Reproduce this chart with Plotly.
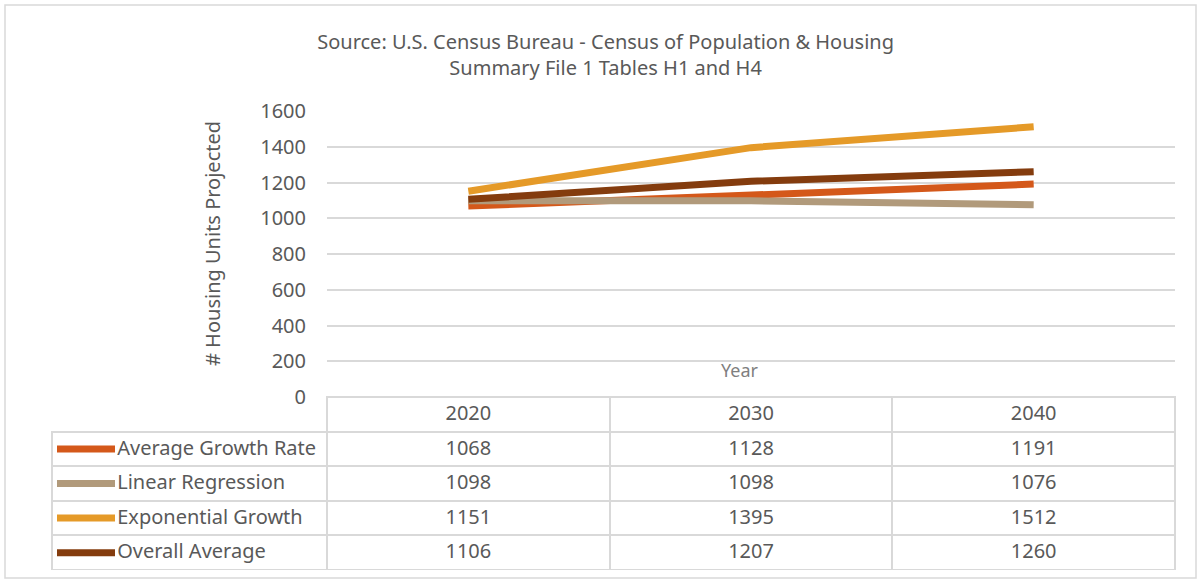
import plotly.graph_objects as go

# projection years and projected housing units per method
years = ['2020', '2030', '2040']
avg_growth = [1068, 1128, 1191]
linear_reg = [1098, 1098, 1076]
exp_growth = [1151, 1395, 1512]
overall_avg = [1106, 1207, 1260]

series_names = ['Average Growth Rate', 'Linear Regression', 'Exponential Growth', 'Overall Average']
series_values = [avg_growth, linear_reg, exp_growth, overall_avg]
series_colors = ['#D4581A', '#B19A7B', '#E59A28', '#843C0E']

GRID = '#D9D9D9'
TEXT = '#595959'
CLEAR = 'rgba(0,0,0,0)'
FONT = 'Noto Sans, DejaVu Sans, sans-serif'

W, H = 1204, 580
M_L, M_R, M_T, M_B = 52, 29, 111, 10
paper_w = W - M_L - M_R
paper_h = H - M_T - M_B


def px_x(x):
    return (x - M_L) / paper_w


def px_y(y):
    return (H - M_B - y) / paper_h


plot_left = 327
plot_bottom = 397
row_h = (H - M_B - plot_bottom) / 5

fig = go.Figure()

# projection lines
for name, vals, col in zip(series_names, series_values, series_colors):
    fig.add_trace(go.Scatter(
        x=years, y=vals, name=name, mode='lines',
        line=dict(color=col, width=7),
        showlegend=False, xaxis='x', yaxis='y'
    ))

# legend keys in the first table column (one short line per series row)
for name, col in zip(series_names, series_colors):
    fig.add_trace(go.Scatter(
        x=[0, 1], y=[name, name], mode='lines',
        line=dict(color=col, width=7),
        showlegend=False, hoverinfo='skip', xaxis='x2', yaxis='y2'
    ))

# data table under the chart (Excel style); non-breaking spaces keep names on one line
nb = '\u00a0'
first_col = [nb * 11 + n.replace(' ', nb) for n in series_names]
year_cols = [[vals[i] for vals in series_values] for i in range(len(years))]

fig.add_trace(go.Table(
    domain=dict(x=[0, 1], y=[0, px_y(plot_bottom)]),
    columnwidth=[plot_left - M_L] + [(W - M_R - plot_left) / 3] * 3,
    header=dict(
        values=[''] + years,
        height=row_h,
        align='center',
        fill_color=CLEAR,
        line=dict(color=[CLEAR, GRID, GRID, GRID], width=2),
        font=dict(family=FONT, size=20, color=TEXT),
    ),
    cells=dict(
        values=[first_col] + year_cols,
        height=row_h,
        align=['left', 'center', 'center', 'center'],
        fill_color=CLEAR,
        line=dict(color=GRID, width=2),
        font=dict(family=FONT, size=20, color=TEXT),
    ),
))

fig.update_layout(
    width=W, height=H,
    margin=dict(l=M_L, r=M_R, t=M_T, b=M_B),
    plot_bgcolor='white',
    paper_bgcolor='white',
    font=dict(family=FONT, size=20, color=TEXT),
    title=dict(
        text='Source: U.S. Census Bureau - Census of Population & Housing<br>Summary File 1 Tables H1 and H4',
        x=0.503, xref='container', xanchor='center',
        y=1 - 49 / H, yanchor='top',
        font=dict(family=FONT, size=20, color=TEXT),
    ),
    xaxis=dict(
        type='category',
        domain=[px_x(plot_left), 1],
        range=[-0.5, 2.5],
        showticklabels=False,
        showgrid=False,
        zeroline=False,
        showline=False,
        automargin=False,
    ),
    yaxis=dict(
        domain=[px_y(plot_bottom), 1],
        range=[0, 1600],
        dtick=200,
        showgrid=True,
        gridcolor=GRID,
        gridwidth=1.5,
        zeroline=False,
        showline=False,
        ticks='',
        ticklabelstandoff=20,
        tickfont=dict(family=FONT, size=20, color=TEXT),
        automargin=False,
    ),
    xaxis2=dict(
        domain=[px_x(57), px_x(115)],
        range=[0, 1], anchor='y2', visible=False,
    ),
    yaxis2=dict(
        domain=[0, px_y(plot_bottom + row_h)],
        type='category', categoryorder='array', categoryarray=series_names,
        range=[len(series_names) - 0.5, -0.5], anchor='x2', visible=False,
    ),
    annotations=[
        dict(text='# Housing Units Projected', textangle=-90,
             x=px_x(212), y=px_y(244), xref='paper', yref='paper',
             xanchor='center', yanchor='middle',
             showarrow=False, font=dict(family=FONT, size=20, color=TEXT)),
        dict(text='Year', x=px_x(740), y=px_y(370), xref='paper', yref='paper',
             xanchor='center', yanchor='middle',
             showarrow=False, font=dict(family=FONT, size=18, color='#7F7F7F')),
    ],
    shapes=[
        dict(type='rect', xref='paper', yref='paper',
             x0=px_x(5), x1=px_x(1196), y0=px_y(578), y1=px_y(5),
             line=dict(color=GRID, width=1.5), fillcolor=CLEAR, layer='below'),
    ],
)

fig.write_html('out.html', config={'displayModeBar': False},
               post_script="document.body.style.margin='0';")
